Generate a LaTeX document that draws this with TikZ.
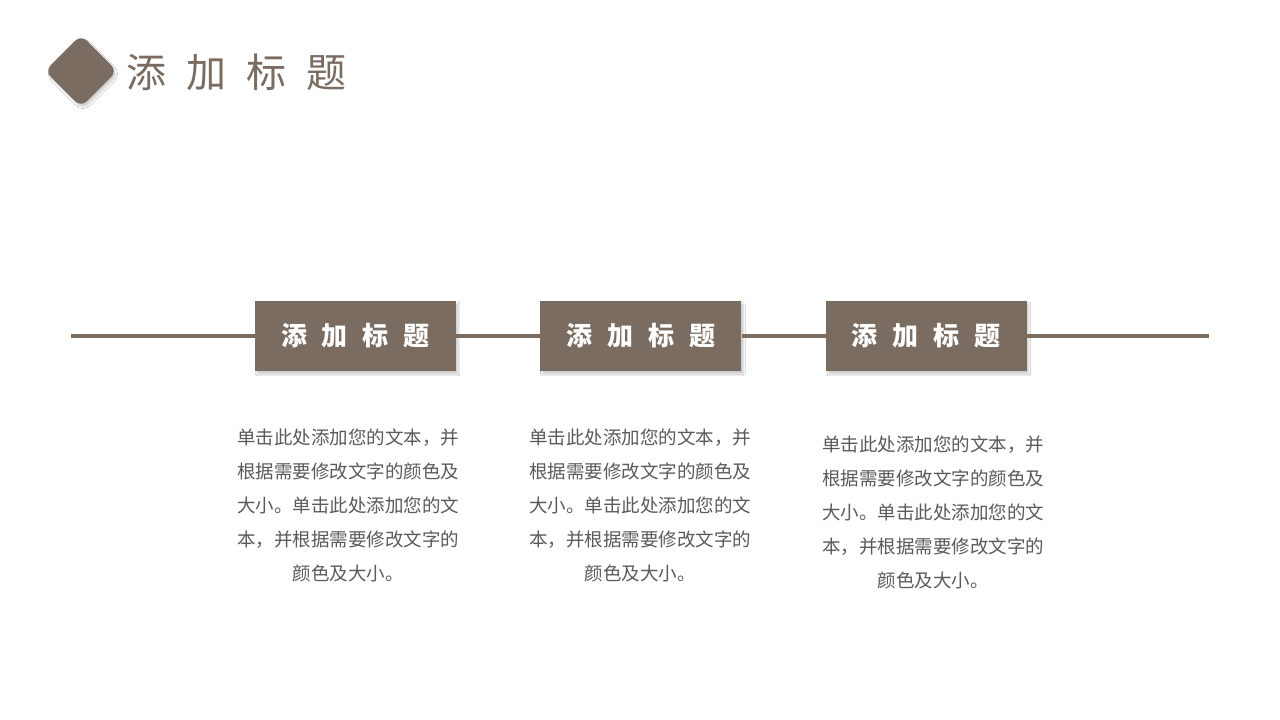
\documentclass[tikz,border=0pt]{standalone}
\usepackage{fontspec}
\newfontfamily\cjk{Noto Sans CJK SC}
\usepackage{xcolor}
\usepackage{tikz}
\usetikzlibrary{positioning,shadows.blur}
\definecolor{taupe}{HTML}{7B6C61}
\definecolor{bodygrey}{HTML}{5A5A5A}

\begin{document}
\begin{tikzpicture}[x=1pt, y=-1pt, node distance=0pt,
    headbox/.style={fill=taupe, minimum width=201pt, minimum height=70pt, inner sep=0pt,
        blur shadow={shadow xshift=2pt, shadow yshift=-3pt, shadow opacity=20, shadow blur steps=10},
        text=white, font=\cjk\bfseries\fontsize{26}{26}\selectfont},
    bodytext/.style={text width=226pt, align=center, inner sep=0pt, anchor=north,
        text=bodygrey, font=\cjk\fontsize{18.5}{34}\selectfont}]
    \useasboundingbox[fill=white] (0,0) rectangle (1280,720);

    % heading
    \node [fill=taupe, rotate=45, minimum size=51pt, rounded corners=8pt,
        blur shadow={shadow xshift=2pt, shadow yshift=-3pt, shadow opacity=18}] (logo) at (81,71) {};
    \node [anchor=west, inner sep=0pt, text=taupe, font=\cjk\fontsize{40}{40}\selectfont] (title) at (126,72)
        {添\hspace{20pt}加\hspace{20pt}标\hspace{20pt}题};

    % timeline
    \coordinate (lineL) at (71,336);
    \coordinate (lineR) at (1209,336);
    \node [headbox] (t1) at (355.5,336) {添\hspace{15pt}加\hspace{15pt}标\hspace{15pt}题};
    \node [headbox, right=84pt of t1] (t2) {添\hspace{15pt}加\hspace{15pt}标\hspace{15pt}题};
    \node [headbox, right=84pt of t2] (t3) {添\hspace{15pt}加\hspace{15pt}标\hspace{15pt}题};
    \draw [taupe, line width=4pt] (lineL) -- (t1.west) (t1.east) -- (t2.west)
        (t2.east) -- (t3.west) (t3.east) -- (lineR);

    % descriptions
    \node [bodytext] (d1) at (348,429) {单击此处添加您的文本，并\\根据需要修改文字的颜色及\\大小。单击此处添加您的文\\本，并根据需要修改文字的\\颜色及大小。};
    \node [bodytext] (d2) at (640,429) {单击此处添加您的文本，并\\根据需要修改文字的颜色及\\大小。单击此处添加您的文\\本，并根据需要修改文字的\\颜色及大小。};
    \node [bodytext] (d3) at (933,436) {单击此处添加您的文本，并\\根据需要修改文字的颜色及\\大小。单击此处添加您的文\\本，并根据需要修改文字的\\颜色及大小。};
\end{tikzpicture}
\end{document}
